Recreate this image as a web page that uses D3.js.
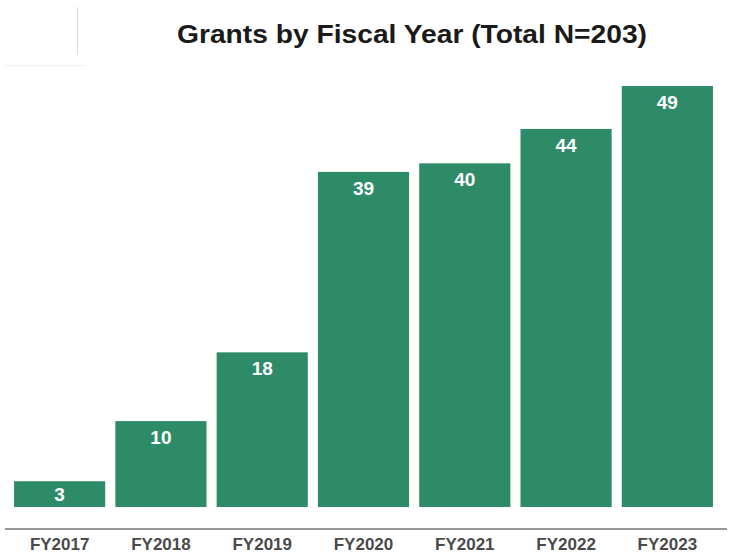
<!DOCTYPE html>
<html><head><meta charset="utf-8">
<script src="https://cdn.jsdelivr.net/npm/d3@7"></script>
<style>body{margin:0;background:#fff}svg{display:block}</style>
</head><body><svg id="c" width="730" height="554"></svg>
<script>
const categories = ["FY2017","FY2018","FY2019","FY2020","FY2021","FY2022","FY2023"];
const values = [3,10,18,39,40,44,49];
const title = "Grants by Fiscal Year (Total N=203)";

const svg = d3.select("#c");
const font = "'Liberation Sans', Arial, sans-serif";
const barColor = "#2e8b68";

// faint artifact lines from the source image
svg.append("line").attr("x1",77.5).attr("x2",77.5).attr("y1",7).attr("y2",54).attr("stroke","#ddd");
svg.append("line").attr("x1",5).attr("x2",85).attr("y1",65.5).attr("y2",65.5).attr("stroke","#f0f0f0");

svg.append("text").attr("x",412).attr("y",43).attr("text-anchor","middle")
  .attr("font-family",font).attr("font-weight","bold").attr("font-size",26)
  .attr("textLength",470).attr("lengthAdjust","spacingAndGlyphs")
  .attr("fill","#1a1a1a").text(title);

const x = d3.scaleBand().domain(categories).range([9,718]).paddingInner(0.1).paddingOuter(0.05);
const y = d3.scaleLinear().domain([0,49]).range([507,86]);

svg.selectAll("rect.bar").data(values).enter().append("rect").attr("class","bar")
  .attr("x",(d,i)=>x(categories[i])).attr("width",x.bandwidth())
  .attr("y",d=>y(d)).attr("height",d=>y(0)-y(d)).attr("fill",barColor);

svg.selectAll("text.val").data(values).enter().append("text").attr("class","val")
  .attr("x",(d,i)=>x(categories[i])+x.bandwidth()/2)
  .attr("y",d=> (y(0)-y(d))<40 ? (y(d)+y(0))/2+7 : y(d)+23)
  .attr("text-anchor","middle").attr("font-family",font).attr("font-weight","bold")
  .attr("font-size",19).attr("fill","#fff").text(d=>d);

const ax = svg.append("g").attr("transform","translate(0,529)")
  .call(d3.axisBottom(x).tickSize(0).tickPadding(9));
ax.select(".domain").attr("d","M5,0H727").attr("stroke","#333").attr("stroke-width",1.2);
ax.selectAll("text").attr("font-family",font).attr("font-weight","bold").attr("font-size",17).attr("fill","#4a4a4a");
</script></body></html>
